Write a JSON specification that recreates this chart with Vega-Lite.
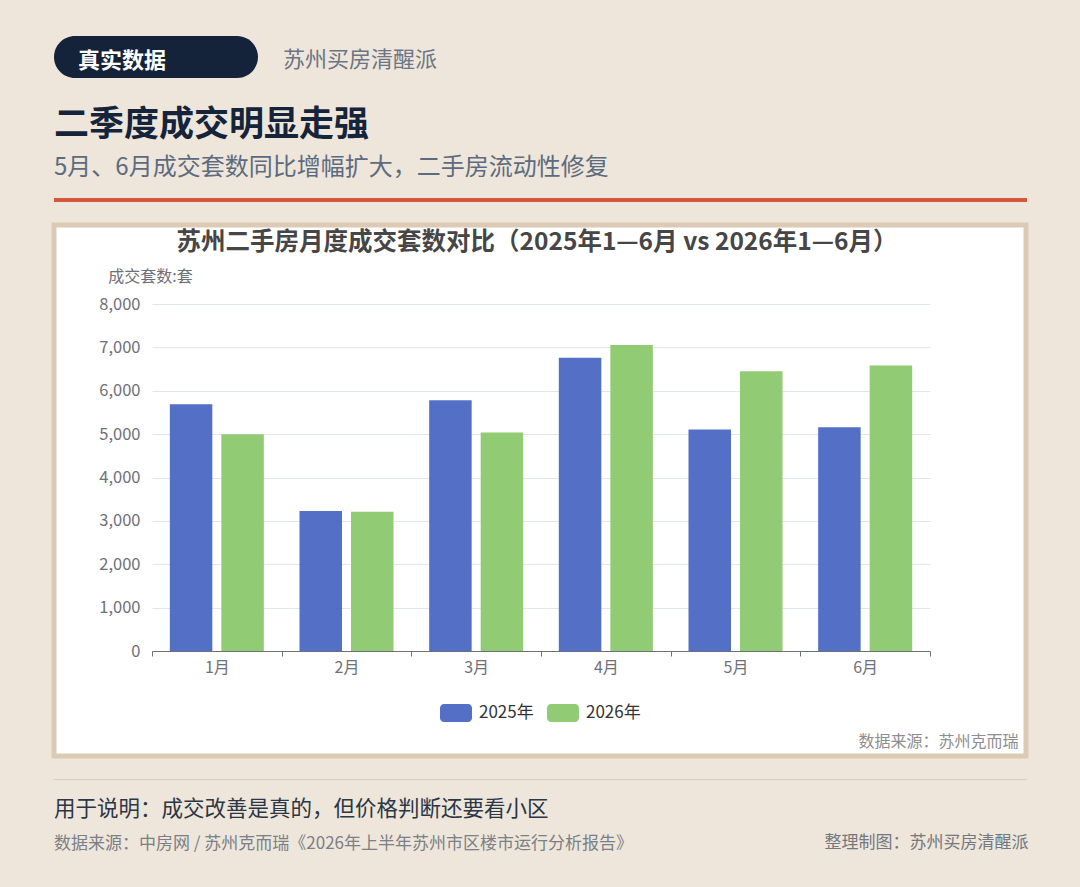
{
  "$schema": "https://vega.github.io/schema/vega-lite/v6.json",
  "background": "#eee6da",
  "padding": {"left": 51, "top": 36, "right": 60, "bottom": 40},
  "spacing": 20,
  "config": {
    "font": "Noto Sans CJK SC",
    "view": {"stroke": null},
    "title": {"font": "Noto Sans CJK SC", "subtitleFont": "Noto Sans CJK SC"},
    "axis": {"labelFont": "Noto Sans CJK SC", "titleFont": "Noto Sans CJK SC"},
    "legend": {"labelFont": "Noto Sans CJK SC"}
  },
  "title": {
    "text": "整理制图：苏州买房清醒派",
    "orient": "bottom",
    "anchor": "end",
    "fontSize": 17,
    "fontWeight": "normal",
    "color": "#747880",
    "offset": -17
  },
  "vconcat": [
    {
      "spacing": 30,
      "vconcat": [
        {
          "spacing": 24,
          "hconcat": [
            {
              "width": 204,
              "height": 42,
              "view": {"fill": "#14233a", "cornerRadius": 21, "stroke": null},
              "data": {"values": [{"label": "真实数据"}]},
              "mark": {"type": "text", "fontSize": 22, "fontWeight": "bold", "color": "#ffffff", "dx": -34, "dy": 4, "baseline": "middle"},
              "encoding": {"text": {"field": "label"}}
            },
            {
              "width": 152,
              "height": 42,
              "data": {"values": [{"label": "苏州买房清醒派"}]},
              "mark": {"type": "text", "fontSize": 22, "color": "#6b7585", "dy": 3, "baseline": "middle"},
              "encoding": {"text": {"field": "label"}}
            }
          ]
        },
        {
          "width": 973,
          "height": 4,
          "title": {
            "text": "二季度成交明显走强",
            "subtitle": "5月、6月成交套数同比增幅扩大，二手房流动性修复",
            "anchor": "start",
            "fontSize": 35,
            "fontWeight": "bold",
            "color": "#15243b",
            "subtitleFontSize": 24,
            "subtitleColor": "#5d6b80",
            "subtitlePadding": 13,
            "offset": 18
          },
          "data": {"values": [{"k": "divider"}]},
          "mark": {"type": "rect", "color": "#d4573d"},
          "encoding": {
            "x": {"field": "k", "type": "nominal", "axis": null, "scale": {"paddingInner": 0, "paddingOuter": 0}},
            "y": {"field": "k", "type": "nominal", "axis": null, "scale": {"paddingInner": 0, "paddingOuter": 0}}
          }
        }
      ]
    },
    {
      "width": 972,
      "height": 531,
      "view": {"fill": "#ffffff", "stroke": "#dccab4", "strokeWidth": 5},
      "title": {
        "text": "苏州二手房月度成交套数对比（2025年1—6月 vs 2026年1—6月）",
        "anchor": "middle",
        "fontSize": 24.5,
        "fontWeight": "bold",
        "color": "#464646",
        "offset": -30,
        "dx": -3
      },
      "data": {
        "values": [
          {"month": "1月", "year": "2025年", "value": 5690},
          {"month": "1月", "year": "2026年", "value": 4995},
          {"month": "2月", "year": "2025年", "value": 3225},
          {"month": "2月", "year": "2026年", "value": 3210},
          {"month": "3月", "year": "2025年", "value": 5780},
          {"month": "3月", "year": "2026年", "value": 5035},
          {"month": "4月", "year": "2025年", "value": 6760},
          {"month": "4月", "year": "2026年", "value": 7055},
          {"month": "5月", "year": "2025年", "value": 5105},
          {"month": "5月", "year": "2026年", "value": 6450},
          {"month": "6月", "year": "2025年", "value": 5160},
          {"month": "6月", "year": "2026年", "value": 6580}
        ]
      },
      "mark": {"type": "bar"},
      "encoding": {
        "x": {
          "field": "month",
          "type": "nominal",
          "sort": ["1月", "2月", "3月", "4月", "5月", "6月"],
          "scale": {"range": [98, 876], "paddingInner": 0, "paddingOuter": 0},
          "axis": {
            "orient": "bottom",
            "offset": -105,
            "labelAngle": 0,
            "labelFontSize": 16,
            "labelColor": "#6e7079",
            "labelPadding": 3,
            "tickBand": "extent",
            "tickSize": 5,
            "tickColor": "#6e7079",
            "domainColor": "#6e7079",
            "grid": false,
            "title": "数据来源：苏州克而瑞",
            "titleX": 964,
            "titleY": 90,
            "titleAlign": "right",
            "titleBaseline": "middle",
            "titleFontSize": 16,
            "titleFontWeight": "normal",
            "titleColor": "#8e8e8e"
          }
        },
        "xOffset": {
          "field": "year",
          "type": "nominal",
          "scale": {"paddingInner": 0.175, "paddingOuter": 0.346}
        },
        "y": {
          "field": "value",
          "type": "quantitative",
          "scale": {"domain": [0, 8000], "range": [426, 79], "nice": false},
          "axis": {
            "offset": -98,
            "values": [0, 1000, 2000, 3000, 4000, 5000, 6000, 7000, 8000],
            "format": ",.0f",
            "domain": false,
            "ticks": false,
            "labelPadding": 12,
            "labelFontSize": 16.5,
            "labelColor": "#6e7079",
            "gridColor": "#e0e6f1",
            "title": "成交套数:套",
            "titleAngle": 0,
            "titleX": -2,
            "titleY": 51,
            "titleAlign": "center",
            "titleBaseline": "middle",
            "titleFontSize": 16,
            "titleFontWeight": "normal",
            "titleColor": "#6e7079"
          }
        },
        "color": {
          "field": "year",
          "type": "nominal",
          "scale": {"domain": ["2025年", "2026年"], "range": ["#5470c6", "#91cc75"]},
          "legend": {
            "title": null,
            "orient": "none",
            "legendX": 386,
            "legendY": 661,
            "direction": "horizontal",
            "columns": 2,
            "padding": 0,
            "symbolType": "M-0.75,-0.5625H0.75A0.25,0.25 0 0 1 1,-0.3125V0.3125A0.25,0.25 0 0 1 0.75,0.5625H-0.75A0.25,0.25 0 0 1 -1,0.3125V-0.3125A0.25,0.25 0 0 1 -0.75,-0.5625Z",
            "symbolSize": 1024,
            "symbolStrokeWidth": 0,
            "labelFontSize": 17,
            "labelColor": "#333333",
            "labelOffset": 7,
            "columnPadding": 13
          }
        }
      }
    },
    {
      "width": 973,
      "height": 1,
      "title": {
        "text": "用于说明：成交改善是真的，但价格判断还要看小区",
        "subtitle": "数据来源：中房网 / 苏州克而瑞《2026年上半年苏州市区楼市运行分析报告》",
        "orient": "bottom",
        "anchor": "start",
        "fontSize": 21.5,
        "fontWeight": "normal",
        "color": "#2b3646",
        "subtitleFontSize": 17,
        "subtitleColor": "#7b7f86",
        "subtitlePadding": 15,
        "offset": 19
      },
      "data": {"values": [{"k": "divider"}]},
      "mark": {"type": "rect", "color": "#d8cdbd"},
      "encoding": {
        "x": {"field": "k", "type": "nominal", "axis": null, "scale": {"paddingInner": 0, "paddingOuter": 0}},
        "y": {"field": "k", "type": "nominal", "axis": null, "scale": {"paddingInner": 0, "paddingOuter": 0}}
      }
    }
  ]
}
